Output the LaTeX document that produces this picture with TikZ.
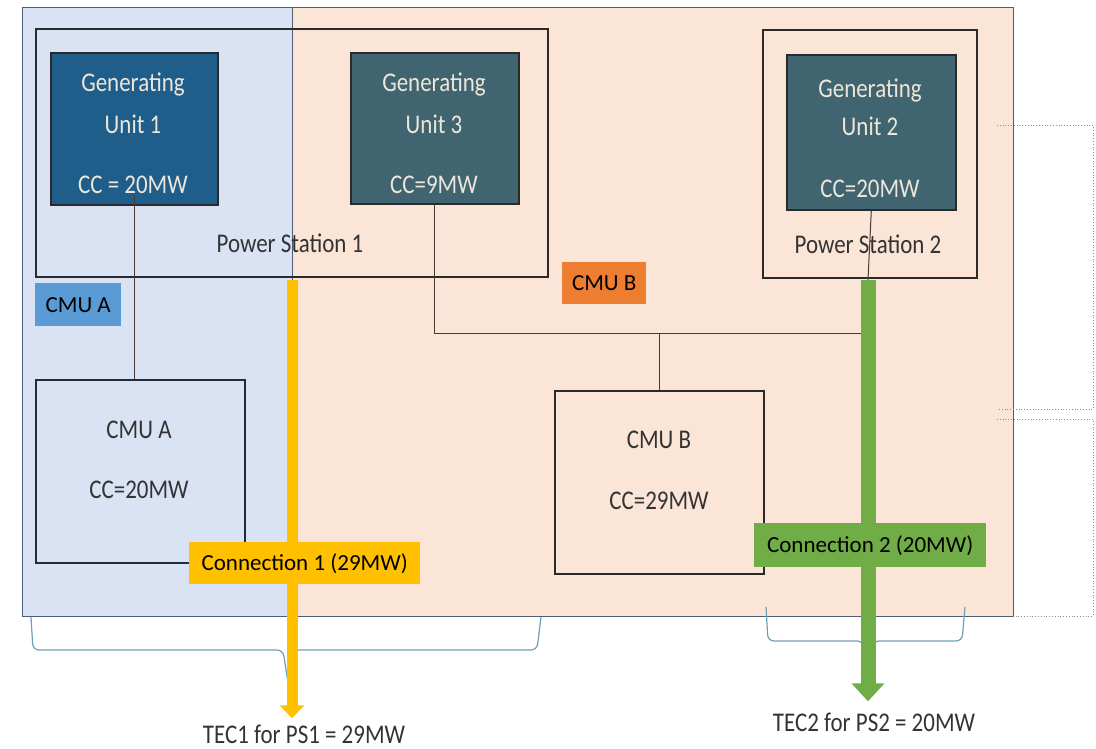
\documentclass[tikz,border=0pt]{standalone}
\usepackage{fontspec}
\setmainfont{Carlito}
\newfontfamily\condfont[FakeStretch=0.85]{Carlito}
\usetikzlibrary{arrows.meta}
\definecolor{regblue}{HTML}{DAE3F3}
\definecolor{regpeach}{HTML}{FBE5D6}
\definecolor{regedge}{HTML}{4F5D73}
\definecolor{gublue}{HTML}{1F5E8A}
\definecolor{guteal}{HTML}{406470}
\definecolor{gutext}{HTML}{EDE6DA}
\definecolor{boxedge}{HTML}{2A2A2A}
\definecolor{navyedge}{HTML}{1F2C3E}
\definecolor{darktext}{HTML}{333333}
\definecolor{labblue}{HTML}{5B9BD5}
\definecolor{laborange}{HTML}{ED7D31}
\definecolor{labyellow}{HTML}{FFC000}
\definecolor{labgreen}{HTML}{70AD47}
\definecolor{linecol}{HTML}{4A3A36}
\definecolor{bracecol}{HTML}{6E9FB8}
\definecolor{dotcol}{HTML}{8C8C8C}
\begin{document}
\begin{tikzpicture}[x=1pt,y=-1pt,
  region/.style={draw=regedge, line width=1pt, anchor=north west, inner sep=0pt},
  station/.style={draw=boxedge, line width=1.6pt, anchor=north west, inner sep=0pt},
  genunit/.style={draw=boxedge, line width=1.6pt, anchor=north west, inner sep=0pt},
  cmubox/.style={line width=1.6pt, anchor=north west, inner sep=0pt},
  gutxt/.style={text=gutext, font=\condfont\fontsize{27}{30}\selectfont, anchor=base, inner sep=0pt},
  dktxt/.style={text=darktext, font=\condfont\fontsize{27}{30}\selectfont, anchor=base, inner sep=0pt},
  lab/.style={anchor=north west, inner sep=0pt},
  labtxt/.style={font=\fontsize{23}{27}\selectfont, text=black, inner sep=0pt},
  conn/.style={draw=linecol, line width=1pt},
  brace/.style={draw=bracecol, line width=1.2pt, rounded corners=6pt},
  dots/.style={draw=dotcol, line width=0.8pt, dotted},
]
\useasboundingbox (0,0) rectangle (1096,748);

% regions
\node[region, fill=regblue, minimum width=270pt, minimum height=609pt] (blueR) at (22,7) {};
\node[region, fill=regpeach, minimum width=721pt, minimum height=609pt] (peachR) at (292,7) {};

% dotted brackets on the right
\draw[dots] (997,125) -- (1093,125) -- (1093,409) -- (997,409);
\draw[dots] (997,419) -- (1093,419) -- (1093,616) -- (1013,616);

% stations
\node[station, minimum width=512pt, minimum height=248pt] (PS1) at (35,28) {};
\node[station, minimum width=214pt, minimum height=248pt] (PS2) at (762,29) {};
\node[dktxt] (PS1t) at (290,252) {Power Station 1};
\node[dktxt] (PS2t) at (868,253) {Power Station 2};

% braces
\draw[brace] (31,617) -- (33,650) -- (283,650) -- (288,683) -- (293,650) -- (537,650) -- (541,617);
\draw[brace] (766,607) -- (768,641) -- (863,641) -- (868,668) -- (873,641) -- (962,641) -- (965,607);

% boxes
\coordinate (bus) at (861,333);
\coordinate (ytop) at (292,280);
\coordinate (gtop) at (868,280);
\node[genunit, fill=gublue, minimum width=167pt, minimum height=152pt] (GU1) at (50,52) {};
\node[genunit, fill=guteal, minimum width=168pt, minimum height=151pt] (GU3) at (350,52) {};
\node[genunit, fill=guteal, minimum width=169pt, minimum height=155pt] (GU2) at (786,54) {};
\node[cmubox, draw=navyedge, minimum width=209pt, minimum height=183pt] (CMUA) at (35,379) {};
\node[cmubox, draw=boxedge, minimum width=209pt, minimum height=183pt] (CMUB) at (554,390) {};

% connectors
\draw[conn] ([yshift=9pt]GU1.south) -- (CMUA.north -| GU1.south);
\draw[conn] (GU3.south) |- (bus);
\draw[conn] (CMUB.north) -- (CMUB.north |- bus);
\draw[conn] (GU2.south) -- (gtop);

% unit texts
\node[gutxt] (GU1a) at (133,91) {Generating};
\node[gutxt] (GU1b) at (133,133) {Unit 1};
\node[gutxt] (GU1c) at (133,193) {CC = 20MW};
\node[gutxt] (GU3a) at (434,91) {Generating};
\node[gutxt] (GU3b) at (434,133) {Unit 3};
\node[gutxt] (GU3c) at (434,193) {CC=9MW};
\node[gutxt] (GU2a) at (870,97) {Generating};
\node[gutxt] (GU2b) at (870,135) {Unit 2};
\node[gutxt] (GU2c) at (870,197) {CC=20MW};

\node[dktxt] (CMUAa) at (139,438) {CMU A};
\node[dktxt] (CMUAb) at (139,498) {CC=20MW};
\node[dktxt] (CMUBa) at (659,448) {CMU B};
\node[dktxt] (CMUBb) at (659,509) {CC=29MW};

% bottom texts
\node[dktxt] (TEC1) at (304,743) {TEC1 for PS1 = 29MW};
\node[dktxt] (TEC2) at (874,731) {TEC2 for PS2 = 20MW};

% big arrows
\draw[labyellow, line width=11pt, -{Triangle[width=24pt,length=13pt]}] (ytop) -- ([yshift=6pt]ytop |- TEC1.north);
\draw[labgreen, line width=15pt, -{Triangle[width=32pt,length=18pt]}] (gtop) -- ([yshift=11pt]gtop |- TEC2.north);

% labels
\node[lab, fill=labblue, minimum width=86pt, minimum height=43pt] (CMUAlab) at (35,283) {};
\node[labtxt] (CMUAlabt) at (CMUAlab.center) {CMU A};
\node[lab, fill=laborange, minimum width=84pt, minimum height=42pt] (CMUBlab) at (562,262) {};
\node[labtxt] (CMUBlabt) at (CMUBlab.center) {CMU B};
\node[lab, fill=labyellow, minimum width=231pt, minimum height=42pt] (Conn1) at (189,542) {};
\node[labtxt] (Conn1t) at (Conn1.center) {Connection 1 (29MW)};
\node[lab, fill=labgreen, minimum width=232pt, minimum height=44pt] (Conn2) at (754,523) {};
\node[labtxt] (Conn2t) at (Conn2.center) {Connection 2 (20MW)};
\end{tikzpicture}
\end{document}
